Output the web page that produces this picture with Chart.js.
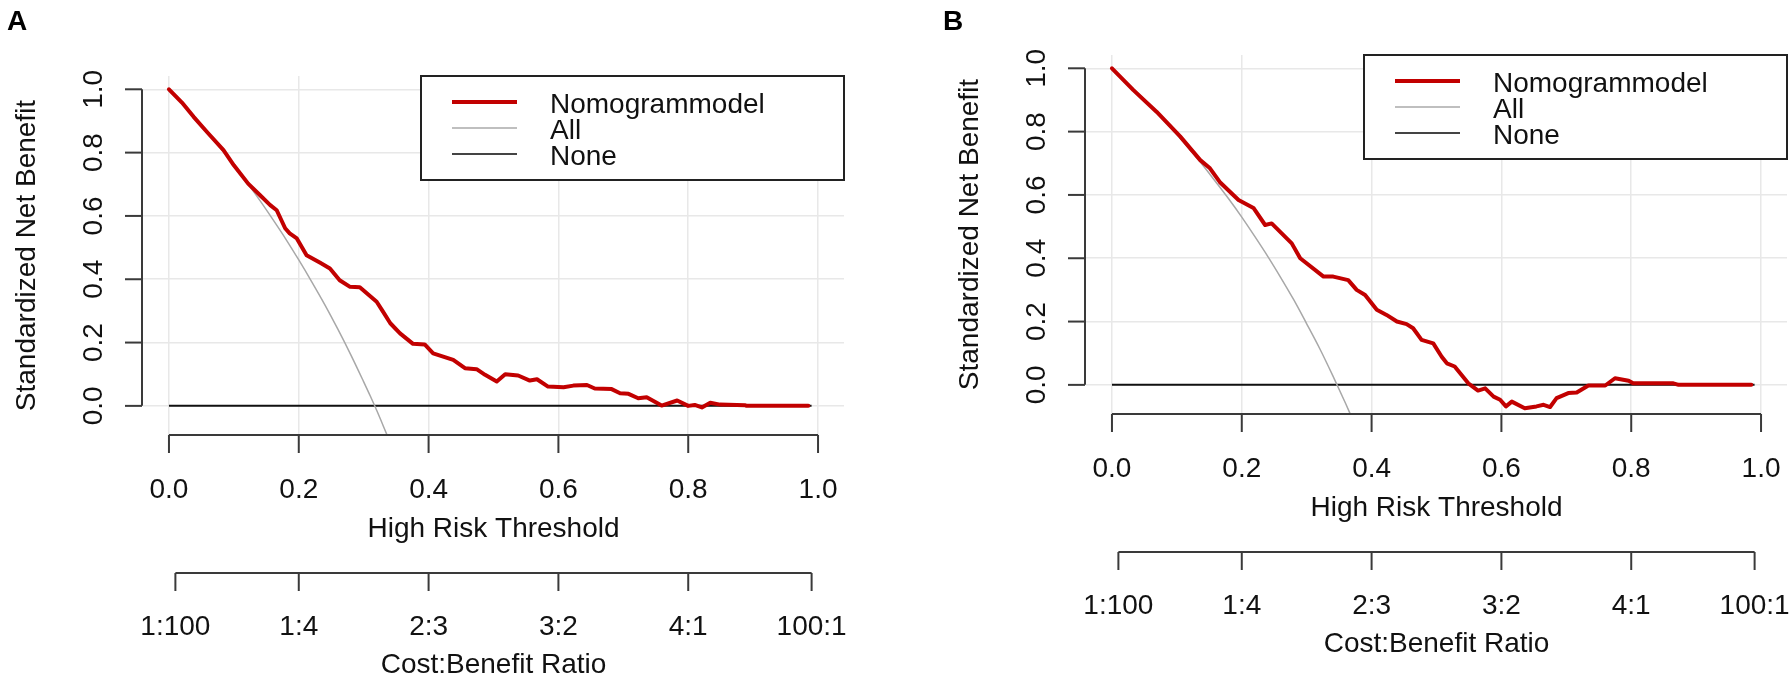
<!DOCTYPE html>
<html lang="en">
<head>
  <meta charset="UTF-8">
  <title>Decision curves - Nomogram model</title>
  <script src="https://cdn.jsdelivr.net/npm/chart.js"></script>
  <style>
    body { margin: 0; background: #fff; }
    #wrap { position: relative; width: 1789px; height: 680px; }
    #wrap canvas { position: absolute; left: 0; top: 0; }
  </style>
</head>
<body>
  <div id="wrap">
    <canvas id="chartA" width="1789" height="680"></canvas>
    <canvas id="chartB" width="1789" height="680"></canvas>
  </div>

  <script>
    // axis ticks and labels
    const xTicks = [0, 0.2, 0.4, 0.6, 0.8, 1.0];
    const xTickLabels = ["0.0", "0.2", "0.4", "0.6", "0.8", "1.0"];
    const yTicks = [0, 0.2, 0.4, 0.6, 0.8, 1.0];
    const yTickLabels = ["0.0", "0.2", "0.4", "0.6", "0.8", "1.0"];
    const costTicks = [0.0099, 0.2, 0.4, 0.6, 0.8, 0.9901];
    const costLabels = ["1:100", "1:4", "2:3", "3:2", "4:1", "100:1"];
    const xTitle = "High Risk Threshold";
    const yTitle = "Standardized Net Benefit";
    const costTitle = "Cost:Benefit Ratio";
    const legendLabels = ["Nomogrammodel", "All", "None"];

    // panel A
    const nomoA_t = [0.000, 0.020, 0.038, 0.060, 0.084, 0.100, 0.122, 0.140, 0.156, 0.166, 0.179, 0.186, 0.197, 0.212, 0.233, 0.248, 0.263, 0.279, 0.294, 0.320, 0.330, 0.341, 0.356, 0.376, 0.394, 0.407, 0.438, 0.456, 0.474, 0.487, 0.505, 0.518, 0.538, 0.556, 0.567, 0.584, 0.608, 0.623, 0.644, 0.656, 0.682, 0.695, 0.708, 0.723, 0.736, 0.759, 0.783, 0.800, 0.810, 0.821, 0.834, 0.849, 0.888, 0.890, 0.985];
    const nomoA_v = [1.000, 0.958, 0.913, 0.862, 0.808, 0.760, 0.702, 0.666, 0.634, 0.618, 0.561, 0.545, 0.529, 0.476, 0.452, 0.434, 0.397, 0.376, 0.375, 0.329, 0.297, 0.261, 0.229, 0.196, 0.194, 0.166, 0.145, 0.119, 0.116, 0.098, 0.077, 0.100, 0.096, 0.080, 0.084, 0.061, 0.059, 0.064, 0.066, 0.055, 0.053, 0.040, 0.038, 0.024, 0.027, 0.001, 0.017, 0.000, 0.003, -0.005, 0.010, 0.004, 0.002, 0.000, 0.000];
    const allA_t = [0.00, 0.05, 0.10, 0.12, 0.14, 0.16, 0.18, 0.20, 0.22, 0.24, 0.26, 0.28, 0.30, 0.31, 0.32, 0.336];
    const allA_v = [1.000, 0.887, 0.761, 0.706, 0.649, 0.589, 0.527, 0.461, 0.392, 0.320, 0.243, 0.162, 0.076, 0.032, -0.014, -0.092];

    // panel B
    const nomoB_t = [0.000, 0.033, 0.069, 0.105, 0.136, 0.151, 0.166, 0.195, 0.218, 0.236, 0.246, 0.277, 0.290, 0.326, 0.341, 0.364, 0.377, 0.390, 0.408, 0.423, 0.439, 0.454, 0.464, 0.477, 0.495, 0.508, 0.516, 0.528, 0.549, 0.564, 0.575, 0.588, 0.598, 0.607, 0.616, 0.636, 0.654, 0.665, 0.675, 0.685, 0.703, 0.716, 0.734, 0.760, 0.775, 0.796, 0.803, 0.865, 0.873, 0.985];
    const nomoB_v = [1.000, 0.931, 0.862, 0.785, 0.710, 0.684, 0.641, 0.584, 0.559, 0.505, 0.510, 0.447, 0.400, 0.342, 0.342, 0.331, 0.300, 0.284, 0.237, 0.221, 0.200, 0.192, 0.179, 0.142, 0.131, 0.089, 0.068, 0.058, 0.005, -0.018, -0.011, -0.037, -0.047, -0.068, -0.053, -0.074, -0.068, -0.063, -0.070, -0.042, -0.026, -0.024, -0.002, -0.002, 0.021, 0.013, 0.005, 0.005, 0.000, 0.000];
    const allB_t = [0.00, 0.05, 0.10, 0.12, 0.14, 0.16, 0.18, 0.20, 0.22, 0.24, 0.26, 0.28, 0.30, 0.32, 0.34, 0.36, 0.368];
    const allB_v = [1.000, 0.901, 0.791, 0.743, 0.694, 0.641, 0.587, 0.530, 0.469, 0.406, 0.339, 0.269, 0.193, 0.115, 0.030, -0.059, -0.096];

    // treat none
    const none_t = [0, 0.99];
    const none_v = [0, 0];

    const FONT = '"Liberation Sans", Arial, sans-serif';
    const RED = "#c20000";
    const legendColors = [RED, "#aaaaaa", "#444444"];
    const legendWidths = [4, 1.5, 2];

    function pts(t, v) {
      return t.map((x, i) => ({ x: x, y: v[i] }));
    }

    function makePanel(id, p) {
      const bottom = p.top + 359;

      const decor = {
        id: "decor" + id,
        afterDraw(chart) {
          const ctx = chart.ctx, x = chart.scales.x, y = chart.scales.y, ca = chart.chartArea;
          const seg = (x1, y1, x2, y2) => { ctx.beginPath(); ctx.moveTo(x1, y1); ctx.lineTo(x2, y2); ctx.stroke(); };
          ctx.save();
          ctx.strokeStyle = "#3a3a3a";
          ctx.lineWidth = 2;
          ctx.fillStyle = "#111";
          ctx.font = "28px " + FONT;
          ctx.textAlign = "center";
          ctx.textBaseline = "alphabetic";

          // y axis (R style, only 0..1)
          const ax = ca.left - 1;
          seg(ax, y.getPixelForValue(0), ax, y.getPixelForValue(1));
          yTicks.forEach((v, i) => {
            const py = y.getPixelForValue(v);
            seg(ax - 17, py, ax, py);
            ctx.save();
            ctx.translate(ax - 40, py);
            ctx.rotate(-Math.PI / 2);
            ctx.fillText(yTickLabels[i], 0, 0);
            ctx.restore();
          });
          ctx.save();
          ctx.translate(ax - 107, (ca.top + ca.bottom) / 2);
          ctx.rotate(-Math.PI / 2);
          ctx.fillText(yTitle, 0, 0);
          ctx.restore();

          // threshold axis
          const by = ca.bottom;
          seg(x.getPixelForValue(xTicks[0]), by, x.getPixelForValue(xTicks[xTicks.length - 1]), by);
          xTicks.forEach((v, i) => {
            const px = x.getPixelForValue(v);
            seg(px, by, px, by + 18);
            ctx.fillText(xTickLabels[i], px, by + 63);
          });
          ctx.fillText(xTitle, (ca.left + ca.right) / 2, by + 102);

          // cost:benefit axis
          const cy = by + 138;
          seg(x.getPixelForValue(costTicks[0]), cy, x.getPixelForValue(costTicks[costTicks.length - 1]), cy);
          costTicks.forEach((v, i) => {
            const px = x.getPixelForValue(v);
            seg(px, cy, px, cy + 18);
            ctx.fillText(costLabels[i], px, by + 200);
          });
          ctx.fillText(costTitle, (ca.left + ca.right) / 2, by + 238);

          // legend top right
          const lw = 423, lh = 104;
          const lx = ca.right - lw, ly = ca.top;
          ctx.fillStyle = "#fff";
          ctx.fillRect(lx, ly, lw, lh);
          ctx.strokeStyle = "#222";
          ctx.strokeRect(lx, ly, lw, lh);
          ctx.textAlign = "left";
          legendLabels.forEach((lab, i) => {
            const ry = ly + 26 + 26 * i;
            ctx.strokeStyle = legendColors[i];
            ctx.lineWidth = legendWidths[i];
            seg(lx + 31, ry, lx + 96, ry);
            ctx.fillStyle = "#111";
            ctx.fillText(lab, lx + 129, ry + 11);
          });

          // panel letter
          ctx.font = "bold 28px " + FONT;
          ctx.fillStyle = "#000";
          ctx.fillText(p.letter, p.letterX, 30);
          ctx.restore();
        }
      };

      return new Chart(document.getElementById(id), {
        type: "line",
        data: {
          datasets: [
            { label: legendLabels[0], data: pts(p.nomoT, p.nomoV), borderColor: RED, borderWidth: 4,
              pointRadius: 0, borderJoinStyle: "round", borderCapStyle: "round", order: 0 },
            { label: legendLabels[1], data: pts(p.allT, p.allV), borderColor: "#a8a8a8", borderWidth: 1.5,
              pointRadius: 0, cubicInterpolationMode: "monotone", order: 1 },
            { label: legendLabels[2], data: pts(none_t, none_v), borderColor: "#111", borderWidth: 2,
              pointRadius: 0, order: 2 }
          ]
        },
        options: {
          responsive: false,
          animation: false,
          devicePixelRatio: 1,
          layout: { padding: { top: p.top, right: 1789 - p.right, left: 0, bottom: 0 } },
          plugins: { legend: { display: false }, tooltip: { enabled: false } },
          scales: {
            x: {
              type: "linear", min: -0.04, max: 1.04,
              afterBuildTicks: s => { s.ticks = xTicks.map(v => ({ value: v })); },
              afterFit: s => { s.height = 680 - bottom; },
              ticks: { display: false },
              grid: { color: "#e8e8e8", lineWidth: 1.5, drawTicks: false },
              border: { display: false }
            },
            y: {
              type: "linear", min: -0.092, max: 1.042,
              afterBuildTicks: s => { s.ticks = yTicks.map(v => ({ value: v })); },
              afterFit: s => { s.width = p.left; },
              ticks: { display: false },
              grid: { color: "#e8e8e8", lineWidth: 1.5, drawTicks: false },
              border: { display: false }
            }
          }
        },
        plugins: [decor]
      });
    }

    makePanel("chartA", { letter: "A", letterX: 7, left: 143, right: 844, top: 76,
      nomoT: nomoA_t, nomoV: nomoA_v, allT: allA_t, allV: allA_v });
    makePanel("chartB", { letter: "B", letterX: 943, left: 1086, right: 1787, top: 55,
      nomoT: nomoB_t, nomoV: nomoB_v, allT: allB_t, allV: allB_v });
  </script>
</body>
</html>
